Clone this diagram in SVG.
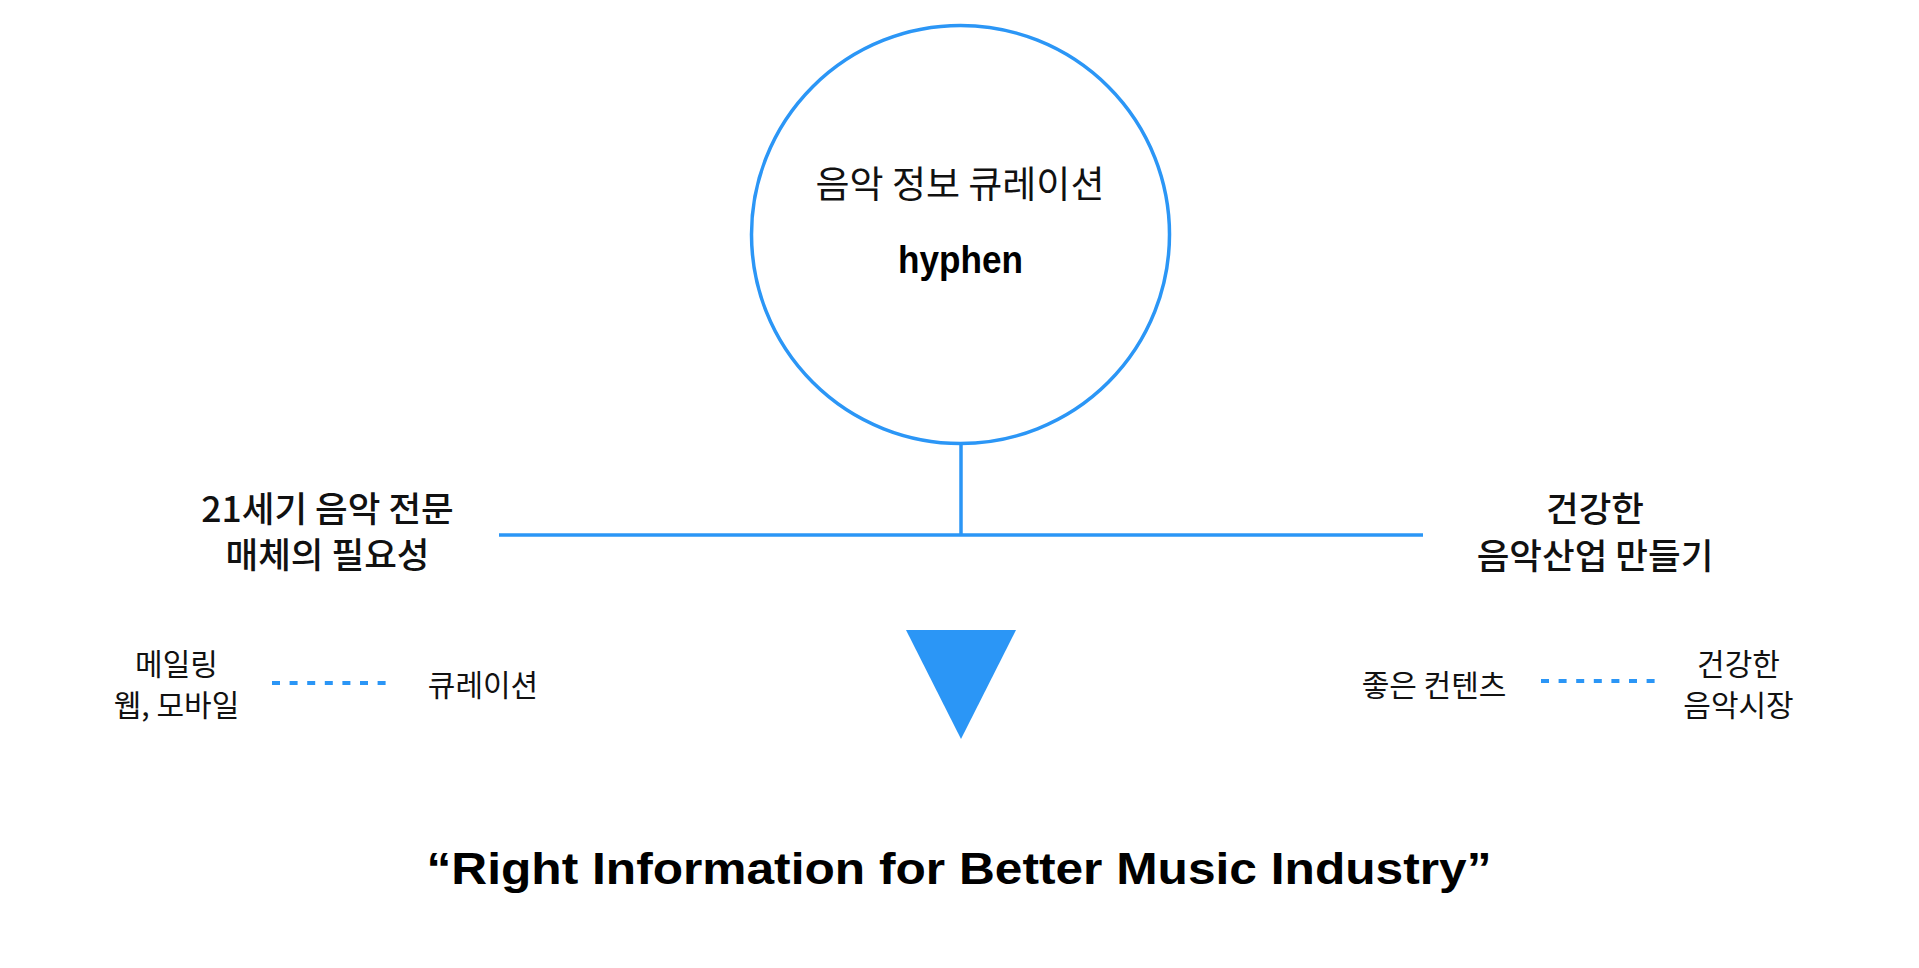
<svg xmlns="http://www.w3.org/2000/svg" width="1919" height="968" viewBox="0 0 1919 968">
<style>
.ko{font-family:"Noto Sans CJK KR","Noto Sans",sans-serif;font-weight:400;fill:#111;text-anchor:middle}
.big{font-size:37px}
.mid{font-size:35.5px;font-weight:500}
.sm{font-size:30px}
.en{font-family:"Liberation Sans",Arial,sans-serif;font-weight:bold;fill:#000;text-anchor:middle}
.blue{stroke:#2B96F6;fill:none}
</style>
<rect width="1919" height="968" fill="#fff"/>
<g id="connectors">
<line class="blue" x1="961" y1="444" x2="961" y2="535" stroke-width="3.5"/>
<line class="blue" x1="499" y1="535" x2="1423" y2="535" stroke-width="3.5"/>
<line class="blue" x1="272" y1="683" x2="388" y2="683" stroke-width="4" stroke-dasharray="8 9.6"/>
<line class="blue" x1="1541" y1="681" x2="1657" y2="681" stroke-width="4" stroke-dasharray="8 9.6"/>
</g>
<g id="hyphen-circle">
<circle class="blue" cx="960.5" cy="234.5" r="209" stroke-width="3.5"/>
<text class="ko big" x="960" y="198">음악 정보 큐레이션</text>
<text class="en" x="960.5" y="273" font-size="39" textLength="125" lengthAdjust="spacingAndGlyphs">hyphen</text>
</g>
<g id="left-need">
<text class="ko mid" x="327.5" y="522">21세기 음악 전문</text>
<text class="ko mid" x="327.5" y="568">매체의 필요성</text>
</g>
<g id="right-goal">
<text class="ko mid" x="1595" y="522">건강한</text>
<text class="ko mid" x="1595" y="569">음악산업 만들기</text>
</g>
<g id="mailing">
<text class="ko sm" x="176.5" y="675">메일링</text>
<text class="ko sm" x="176.5" y="716">웹, 모바일</text>
</g>
<g id="curation">
<text class="ko sm" x="483" y="696">큐레이션</text>
</g>
<g id="good-content">
<text class="ko sm" x="1434" y="696">좋은 컨텐츠</text>
</g>
<g id="healthy-market">
<text class="ko sm" x="1738.5" y="675">건강한</text>
<text class="ko sm" x="1738.5" y="716">음악시장</text>
</g>
<g id="arrow-down">
<polygon points="906,630 1016,630 961,739" fill="#2B96F6"/>
</g>
<g id="slogan">
<text class="en" x="959" y="884" font-size="45" textLength="1065" lengthAdjust="spacingAndGlyphs">“Right Information for Better Music Industry”</text>
</g>
</svg>
